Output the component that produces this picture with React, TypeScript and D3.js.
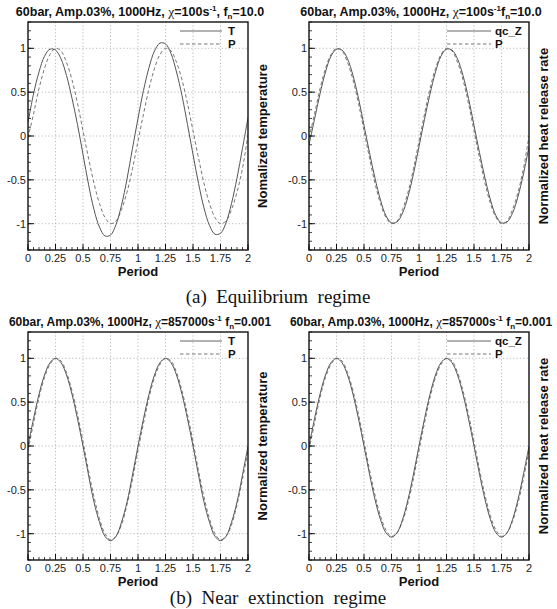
import React from "react";
import * as d3 from "d3";

const periodSamples = [0, 0.05, 0.1, 0.15, 0.2, 0.25, 0.3, 0.35, 0.4, 0.45, 0.5, 0.55, 0.6, 0.65, 0.7, 0.75, 0.8, 0.85, 0.9, 0.95, 1, 1.05, 1.1, 1.15, 1.2, 1.25, 1.3, 1.35, 1.4, 1.45, 1.5, 1.55, 1.6, 1.65, 1.7, 1.75, 1.8, 1.85, 1.9, 1.95, 2];

const aLeftT = [0.15, 0.48, 0.73, 0.91, 0.99, 0.98, 0.88, 0.69, 0.43, 0.13, -0.21, -0.55, -0.84, -1.04, -1.14, -1.13, -1.01, -0.79, -0.49, -0.14, 0.2, 0.52, 0.78, 0.97, 1.06, 1.05, 0.94, 0.73, 0.46, 0.13, -0.21, -0.54, -0.82, -1.02, -1.12, -1.11, -0.99, -0.77, -0.48, -0.14, 0.21];
const aLeftP = [-0.02, 0.25, 0.54, 0.77, 0.93, 1.0, 0.97, 0.84, 0.64, 0.37, 0.06, -0.25, -0.54, -0.77, -0.93, -1.0, -0.97, -0.84, -0.64, -0.37, -0.06, 0.25, 0.54, 0.77, 0.93, 1.0, 0.97, 0.84, 0.64, 0.37, 0.06, -0.25, -0.54, -0.77, -0.93, -1.0, -0.97, -0.84, -0.64, -0.37, 0.02];
const aRightQ = [-0.1, 0.19, 0.48, 0.73, 0.91, 0.99, 0.98, 0.88, 0.69, 0.43, 0.12, -0.19, -0.48, -0.73, -0.91, -0.99, -0.98, -0.88, -0.69, -0.43, -0.12, 0.19, 0.48, 0.73, 0.91, 0.99, 0.98, 0.88, 0.69, 0.43, 0.12, -0.19, -0.48, -0.73, -0.91, -0.99, -0.98, -0.88, -0.69, -0.43, -0.12];
const aRightP = [-0.02, 0.25, 0.54, 0.77, 0.93, 1.0, 0.97, 0.84, 0.64, 0.37, 0.06, -0.25, -0.54, -0.77, -0.93, -1.0, -0.97, -0.84, -0.64, -0.37, -0.06, 0.25, 0.54, 0.77, 0.93, 1.0, 0.97, 0.84, 0.64, 0.37, 0.06, -0.25, -0.54, -0.77, -0.93, -1.0, -0.97, -0.84, -0.64, -0.37, 0.0];
const bLeftT = [0, 0.31, 0.59, 0.81, 0.95, 1.0, 0.95, 0.81, 0.59, 0.31, 0, -0.33, -0.64, -0.87, -1.03, -1.08, -1.03, -0.87, -0.64, -0.33, 0, 0.31, 0.59, 0.81, 0.95, 1.0, 0.95, 0.81, 0.59, 0.31, 0, -0.33, -0.64, -0.87, -1.03, -1.08, -1.03, -0.87, -0.64, -0.33, 0];
const bLeftP = [-0.05, 0.26, 0.55, 0.78, 0.93, 1.0, 0.97, 0.84, 0.63, 0.36, 0.05, -0.28, -0.58, -0.83, -1.0, -1.07, -1.03, -0.9, -0.67, -0.38, -0.05, 0.26, 0.55, 0.78, 0.93, 1.0, 0.97, 0.84, 0.63, 0.36, 0.05, -0.28, -0.58, -0.83, -1.0, -1.07, -1.03, -0.9, -0.67, -0.38, -0.05];
const bRightQ = [0, 0.31, 0.59, 0.81, 0.95, 1.0, 0.95, 0.81, 0.59, 0.31, 0, -0.32, -0.61, -0.84, -0.99, -1.04, -0.99, -0.84, -0.61, -0.32, 0, 0.31, 0.59, 0.81, 0.95, 1.0, 0.95, 0.81, 0.59, 0.31, 0, -0.32, -0.61, -0.84, -0.99, -1.04, -0.99, -0.84, -0.61, -0.32, 0];
const bRightP = [-0.05, 0.26, 0.55, 0.78, 0.93, 1.0, 0.97, 0.84, 0.63, 0.36, 0.05, -0.27, -0.56, -0.8, -0.96, -1.03, -0.99, -0.86, -0.65, -0.37, -0.05, 0.26, 0.55, 0.78, 0.93, 1.0, 0.97, 0.84, 0.63, 0.36, 0.05, -0.27, -0.56, -0.8, -0.96, -1.03, -0.99, -0.86, -0.65, -0.37, -0.05];

const xTickValues = [0, 0.25, 0.5, 0.75, 1, 1.25, 1.5, 1.75, 2];
const xTickLabels = ["0", "0.25", "0.5", "0.75", "1", "1.25", "1.5", "1.75", "2"];
const yTickValues = [-1, -0.5, 0, 0.5, 1];
const yTickLabels = ["-1", "-0.5", "0", "0.5", "1"];
const xDomain = [0, 2];
const yDomain = [-1.3, 1.3];

const SANS = "'Liberation Sans', Arial, Helvetica, sans-serif";
const SERIF = "'Liberation Serif', 'Times New Roman', serif";

type TitleSpec = { chi: string; sep: string; fn: string; size: number };

function Title({ cx, y, spec }: { cx: number; y: number; spec: TitleSpec }) {
  const s = spec.size;
  return (
    <text x={cx} y={y} textAnchor="middle" fontFamily={SANS} fontWeight="bold" fontSize={s} fill="#111">
      <tspan>60bar, Amp.03%, 1000Hz, </tspan>
      <tspan fontFamily={SERIF} fontWeight="normal" fontSize={s + 1}>χ</tspan>
      <tspan>{"=" + spec.chi + "s"}</tspan>
      <tspan fontSize={8} dy={-5}>-1</tspan>
      <tspan dy={5}>{spec.sep + "f"}</tspan>
      <tspan fontSize={8} dy={3}>n</tspan>
      <tspan dy={-3}>{"=" + spec.fn}</tspan>
    </text>
  );
}

type PanelProps = {
  x: number;
  y: number;
  w: number;
  h: number;
  solid: number[];
  dashed: number[];
  solidName: string;
  dashedName: string;
  ylabel: string;
  title: TitleSpec;
  legendSampleStart: number;
  legendSampleEnd: number;
  legendLabelX: number;
};

function Panel(p: PanelProps) {
  const xs = d3.scaleLinear().domain(xDomain).range([p.x, p.x + p.w]);
  const ys = d3.scaleLinear().domain(yDomain).range([p.y + p.h, p.y]);
  const line = d3
    .line<number>()
    .x((_, i) => xs(periodSamples[i]))
    .y((d) => ys(d))
    .curve(d3.curveCatmullRom.alpha(0.5));
  const xMinor = d3.range(0, 2.0001, 0.05);
  const yMinor = d3.range(-13, 14).map((v) => v / 10);
  const clipId = `clip-${p.x}-${p.y}`;
  return (
    <g>
      <Title cx={p.x + p.w / 2 + 2} y={p.y - 6} spec={p.title} />
      <defs>
        <clipPath id={clipId}>
          <rect x={p.x} y={p.y} width={p.w} height={p.h} />
        </clipPath>
      </defs>
      {xTickValues.slice(1, -1).map((v) => (
        <line key={"gx" + v} x1={xs(v)} x2={xs(v)} y1={p.y} y2={p.y + p.h} stroke="#aaa" strokeWidth={0.8} strokeDasharray="1.2,2.2" />
      ))}
      {yTickValues.map((v) => (
        <line key={"gy" + v} x1={p.x} x2={p.x + p.w} y1={ys(v)} y2={ys(v)} stroke="#aaa" strokeWidth={0.8} strokeDasharray="1.2,2.2" />
      ))}
      <g clipPath={`url(#${clipId})`}>
        <path d={line(p.dashed) || ""} fill="none" stroke="#777" strokeWidth={1} strokeDasharray="3.5,2.5" />
        <path d={line(p.solid) || ""} fill="none" stroke="#555" strokeWidth={1} />
      </g>
      {/* legend */}
      <line x1={p.legendSampleStart} x2={p.legendSampleEnd} y1={p.y + 9} y2={p.y + 9} stroke="#666" strokeWidth={1} />
      <line x1={p.legendSampleStart} x2={p.legendSampleEnd} y1={p.y + 22} y2={p.y + 22} stroke="#777" strokeWidth={1} strokeDasharray="3.5,2.5" />
      <text x={p.legendLabelX} y={p.y + 13} fontFamily={SANS} fontWeight="bold" fontSize={11.5} fill="#111">{p.solidName}</text>
      <text x={p.legendLabelX} y={p.y + 26} fontFamily={SANS} fontWeight="bold" fontSize={11.5} fill="#111">{p.dashedName}</text>
      {/* minor ticks */}
      {xMinor.map((v, i) => (
        <line key={"mx" + i} x1={xs(v)} x2={xs(v)} y1={p.y + p.h} y2={p.y + p.h - 3} stroke="#111" strokeWidth={0.8} />
      ))}
      {yMinor.map((v, i) => (
        <line key={"my" + i} x1={p.x} x2={p.x + 3} y1={ys(v)} y2={ys(v)} stroke="#111" strokeWidth={0.8} />
      ))}
      {xTickValues.map((v) => (
        <line key={"tx" + v} x1={xs(v)} x2={xs(v)} y1={p.y + p.h} y2={p.y + p.h - 6} stroke="#111" strokeWidth={1} />
      ))}
      {yTickValues.map((v) => (
        <line key={"ty" + v} x1={p.x} x2={p.x + 6} y1={ys(v)} y2={ys(v)} stroke="#111" strokeWidth={1} />
      ))}
      <rect x={p.x} y={p.y} width={p.w} height={p.h} fill="none" stroke="#111" strokeWidth={1.4} />
      {xTickValues.map((v, i) => (
        <text key={"lx" + v} x={xs(v)} y={p.y + p.h + 12} textAnchor="middle" fontFamily={SANS} fontSize={11} fill="#222">{xTickLabels[i]}</text>
      ))}
      {yTickValues.map((v, i) => (
        <text key={"ly" + v} x={p.x - 2} y={ys(v) + 4} textAnchor="end" fontFamily={SANS} fontSize={11} fill="#222">{yTickLabels[i]}</text>
      ))}
      <text x={p.x + p.w / 2} y={p.y + p.h + 26} textAnchor="middle" fontFamily={SANS} fontWeight="bold" fontSize={13} fill="#111">Period</text>
      <text transform={`translate(${p.x + p.w + 19},${p.y + p.h / 2}) rotate(-90)`} textAnchor="middle" fontFamily={SANS} fontWeight="bold" fontSize={13} fill="#111">{p.ylabel}</text>
    </g>
  );
}

export default function App() {
  const LX = 28, RX = 309, W = 220, H = 228;
  const AY = 22, BY = 332;
  const leftLeg = { legendSampleStart: 180, legendSampleEnd: 222, legendLabelX: 228 };
  const rightLeg = { legendSampleStart: 447, legendSampleEnd: 491, legendLabelX: 495 };
  return (
    <svg width={557} height={609} style={{ position: "absolute", left: 0, top: 0, display: "block", background: "#fff" }}>
      <Panel x={LX} y={AY} w={W} h={H} solid={aLeftT} dashed={aLeftP} solidName="T" dashedName="P" ylabel="Nomalized temperature" title={{ chi: "100", sep: ", ", fn: "10.0", size: 12.5 }} {...leftLeg} />
      <Panel x={RX} y={AY} w={W} h={H} solid={aRightQ} dashed={aRightP} solidName="qc_Z" dashedName="P" ylabel="Normalized heat release rate" title={{ chi: "100", sep: "", fn: "10.0", size: 12.5 }} {...rightLeg} />
      <text x={278} y={303} textAnchor="middle" fontFamily={SERIF} fontSize={19} fill="#111" style={{ whiteSpace: "pre" }}>(a)  Equilibrium  regime</text>
      <Panel x={LX} y={BY} w={W} h={H} solid={bLeftT} dashed={bLeftP} solidName="T" dashedName="P" ylabel="Normalized temperature" title={{ chi: "857000", sep: " ", fn: "0.001", size: 12 }} {...leftLeg} />
      <Panel x={RX} y={BY} w={W} h={H} solid={bRightQ} dashed={bRightP} solidName="qc_Z" dashedName="P" ylabel="Normalized heat release rate" title={{ chi: "857000", sep: " ", fn: "0.001", size: 12 }} {...rightLeg} />
      <text x={278} y={604} textAnchor="middle" fontFamily={SERIF} fontSize={19} fill="#111" style={{ whiteSpace: "pre" }}>(b)  Near  extinction  regime</text>
    </svg>
  );
}
